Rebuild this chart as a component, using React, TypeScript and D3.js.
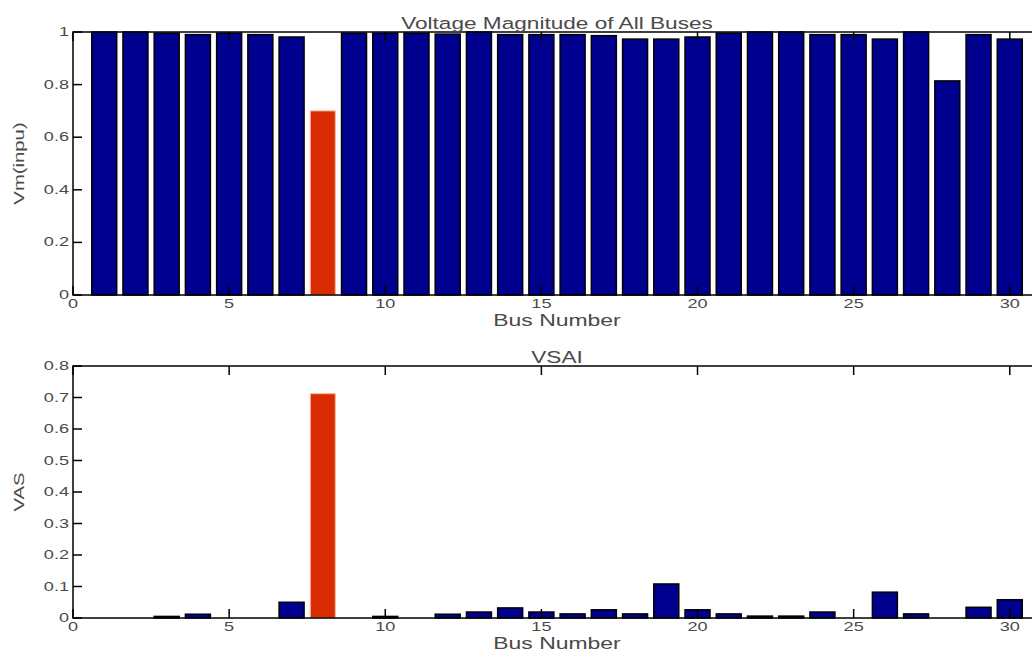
import React from 'react'
import * as d3 from 'd3'

// bus numbers 1..30
const buses = d3.range(1, 31)

// voltage magnitude (p.u.) per bus
const vmValues = [
    1.0, 1.0, 0.996, 0.99, 0.996, 0.99, 0.981, 0.70, 0.996, 0.996,
    0.996, 0.992, 1.0, 0.99, 0.99, 0.99, 0.986, 0.973, 0.973, 0.981,
    0.996, 1.0, 1.0, 0.99, 0.99, 0.973, 1.0, 0.814, 0.99, 0.973,
]

// VSAI per bus
const vsaiValues = [
    0, 0, 0.005, 0.012, 0, 0, 0.05, 0.712, 0, 0.005,
    0, 0.012, 0.019, 0.032, 0.019, 0.013, 0.026, 0.013, 0.108, 0.026,
    0.013, 0.006, 0.006, 0.019, 0, 0.082, 0.013, 0, 0.034, 0.058,
]

const highlightBus = 8

const xTicks = [0, 5, 10, 15, 20, 25, 30]
const vmTicks = [0, 0.2, 0.4, 0.6, 0.8, 1]
const vsaiTicks = [0, 0.1, 0.2, 0.3, 0.4, 0.5, 0.6, 0.7, 0.8]

const BLUE = '#00008f'
const RED = '#d92b00'
const TEXT = '#4a4a4a'
const FONT = '"Liberation Sans", Arial, sans-serif'

// the source picture is stretched wide, so text is scaled along its baseline
function Txt(props: { x: number, y: number, size: number, sx: number, anchor?: string, rotate?: number, children: React.ReactNode }) {
    const { x, y, size, sx, anchor = 'middle', rotate = 0, children } = props
    return (
        <text transform={`translate(${x},${y}) rotate(${rotate}) scale(${sx},1)`}
            textAnchor={anchor} fontSize={size} fill={TEXT} fontFamily={FONT}>{children}</text>
    )
}

type PanelProps = {
    values: number[]
    yTicks: number[]
    yMax: number
    top: number
    bottom: number
    title: string
    yLabel: string
}

function Panel({ values, yTicks, yMax, top, bottom, title, yLabel }: PanelProps) {
    const left = 73
    const right = 1041
    const x = d3.scaleLinear().domain([0, 31]).range([left, right])
    const y = d3.scaleLinear().domain([0, yMax]).range([bottom, top])
    const bw = x(0.8) - x(0)
    const tick = 9
    const cx = (left + right) / 2

    return (
        <g>
            {/* bars */}
            {buses.map((b, i) => {
                const v = values[i]
                const hot = b === highlightBus
                return (
                    <rect key={b}
                        x={x(b) - bw / 2}
                        y={y(v)}
                        width={bw}
                        height={y(0) - y(v)}
                        fill={hot ? RED : BLUE}
                        stroke={hot ? '#f3b9a0' : '#000'}
                        strokeWidth={hot ? 1 : 1.5} />
                )
            })}

            {/* axes box */}
            <rect x={left} y={top} width={right - left} height={bottom - top}
                fill="none" stroke="#000" strokeWidth={1.5} />

            {/* x ticks */}
            {xTicks.map(t => (
                <g key={'x' + t}>
                    <line x1={x(t)} x2={x(t)} y1={bottom} y2={bottom - tick} stroke="#000" strokeWidth={1.5} />
                    <line x1={x(t)} x2={x(t)} y1={top} y2={top + tick} stroke="#000" strokeWidth={1.5} />
                    <Txt x={x(t)} y={bottom + 13} size={12.5} sx={1.45}>{t}</Txt>
                </g>
            ))}

            {/* y ticks */}
            {yTicks.map(t => (
                <g key={'y' + t}>
                    <line x1={left} x2={left + tick} y1={y(t)} y2={y(t)} stroke="#000" strokeWidth={1.5} />
                    <line x1={right} x2={right - tick} y1={y(t)} y2={y(t)} stroke="#000" strokeWidth={1.5} />
                    <Txt x={left - 4} y={y(t) + 4} size={12.5} sx={1.45} anchor="end">{t}</Txt>
                </g>
            ))}

            <Txt x={cx} y={top - 3} size={17} sx={1.33}>{title}</Txt>
            <Txt x={cx} y={bottom + 31} size={17} sx={1.35}>Bus Number</Txt>
            <Txt x={24} y={(top + bottom) / 2} size={14} sx={1.45} rotate={-90}>{yLabel}</Txt>
        </g>
    )
}

export default function App() {
    return (
        <svg width={1032} height={650}
            style={{ position: 'absolute', left: 0, top: 0, background: '#fff' }}>
            <rect width={1032} height={650} fill="#fff" />
            <Panel values={vmValues} yTicks={vmTicks} yMax={1} top={32} bottom={295}
                title="Voltage Magnitude of All Buses" yLabel="Vm(inpu)" />
            <Panel values={vsaiValues} yTicks={vsaiTicks} yMax={0.8} top={366} bottom={618}
                title="VSAI" yLabel="VAS" />
        </svg>
    )
}
